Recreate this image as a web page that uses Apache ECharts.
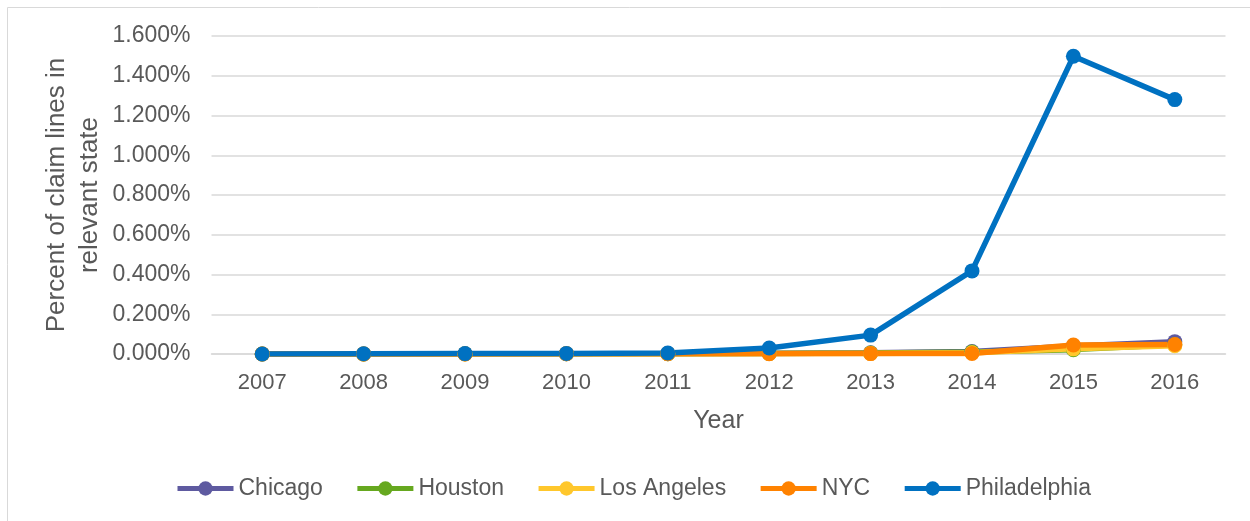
<!DOCTYPE html>
<html>
<head>
<meta charset="utf-8">
<script src="https://cdn.jsdelivr.net/npm/echarts@6/dist/echarts.min.js"></script>
<style>
  html, body { margin: 0; padding: 0; background: #fff; }
  #chart { width: 1250px; height: 521px; }
</style>
</head>
<body>
<div id="chart"></div>
<script>
// years on the x axis
var years = ['2007', '2008', '2009', '2010', '2011', '2012', '2013', '2014', '2015', '2016'];
// percent of claim lines (values are already in %)
var chicago      = [0.000, 0.000, 0.001, 0.001, 0.002, 0.004, 0.006, 0.012, 0.040, 0.062];
var houston      = [0.000, 0.000, 0.001, 0.001, 0.001, 0.003, 0.005, 0.010, 0.022, 0.046];
var losAngeles   = [0.000, 0.000, 0.000, 0.001, 0.001, 0.002, 0.003, 0.006, 0.026, 0.042];
var nyc          = [0.000, 0.000, 0.000, 0.001, 0.001, 0.001, 0.002, 0.003, 0.045, 0.048];
var philadelphia = [0.000, 0.001, 0.002, 0.003, 0.005, 0.030, 0.095, 0.418, 1.498, 1.280];

var names = ['Chicago', 'Houston', 'Los Angeles', 'NYC', 'Philadelphia'];
var colors = ['#5E5AA0', '#66A81F', '#FFC72C', '#FF8200', '#0071C1'];
var values = [chicago, houston, losAngeles, nyc, philadelphia];

var textColor = '#595959';
var font = 'Liberation Sans, Arial, sans-serif';

var chart = echarts.init(document.getElementById('chart'));

var series = names.map(function (n, i) {
	return {
		name: n,
		type: 'line',
		data: values[i],
		symbol: 'circle',
		symbolSize: 15,
		lineStyle: { width: 5.5, color: colors[i] },
		itemStyle: { color: colors[i] },
		emphasis: { disabled: true },
		animation: false
	};
});

chart.setOption({
	animation: false,
	graphic: [{
		type: 'rect',
		shape: { x: 7.5, y: 7.5, width: 1260, height: 520 },
		style: { fill: 'none', stroke: '#d9d9d9', lineWidth: 1 },
		silent: true
	}],
	grid: { left: 211.5, right: 24.5, top: 36, bottom: 167 },
	legend: {
		bottom: 16,
		left: 170,
		itemWidth: 56,
		itemHeight: 18,
		itemGap: 32,
		lineStyle: { width: 5 },
		textStyle: { color: textColor, fontSize: 23, fontFamily: font },
		data: names
	},
	xAxis: {
		type: 'category',
		data: years,
		boundaryGap: true,
		name: 'Year',
		nameLocation: 'middle',
		nameGap: 55,
		nameMoveOverlap: false,
		nameTextStyle: { color: textColor, fontSize: 25, fontFamily: font },
		axisLine: { lineStyle: { color: '#d9d9d9', width: 1.5 } },
		axisTick: { show: false },
		axisLabel: { color: textColor, fontSize: 22, fontFamily: font, margin: 18 }
	},
	yAxis: {
		type: 'value',
		min: 0,
		max: 1.6,
		interval: 0.2,
		name: 'Percent of claim lines in\nrelevant state',
		nameLocation: 'middle',
		nameGap: 105,
		nameMoveOverlap: false,
		nameTextStyle: { color: textColor, fontSize: 26, fontFamily: font, lineHeight: 33 },
		axisLine: { show: false },
		axisTick: { show: false },
		splitLine: { lineStyle: { color: '#d9d9d9', width: 1.5 } },
		axisLabel: {
			color: textColor, fontSize: 23, fontFamily: font, margin: 21,
			formatter: function (v) { return v.toFixed(3) + '%'; }
		}
	},
	series: series
});
</script>
</body>
</html>
